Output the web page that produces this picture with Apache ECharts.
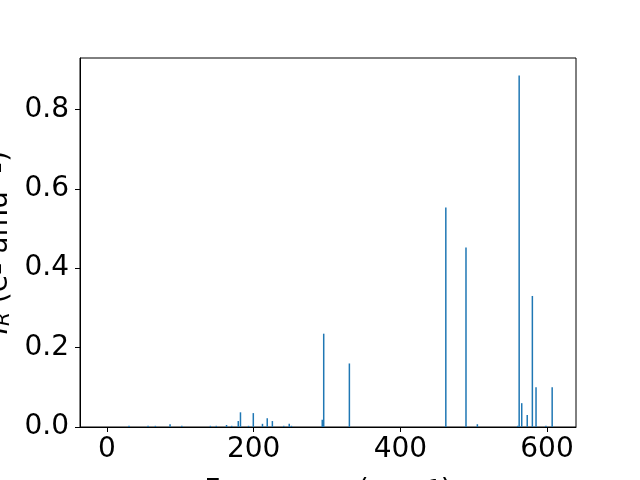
<!DOCTYPE html>
<html><head><meta charset="utf-8">
<script src="https://cdn.jsdelivr.net/npm/echarts@6/dist/echarts.min.js"></script>
<style>html,body{margin:0;padding:0;background:#fff}#c{width:640px;height:480px}</style>
</head><body><div id="c"></div>
<script>
const frequencies = [30, 56, 66, 86, 102, 141, 149, 163, 170, 179, 182, 193, 199.5, 212, 218.5, 225.5, 241, 248.5, 251.5, 293.5, 295.5, 330.5, 462, 489.5, 505, 560, 562, 565.5, 573, 580, 585, 598.5, 607];
const intensities = [0.003, 0.003, 0.003, 0.007, 0.003, 0.003, 0.003, 0.005, 0.003, 0.015, 0.037, 0.003, 0.035, 0.008, 0.022, 0.015, 0.003, 0.008, 0.003, 0.018, 0.235, 0.16, 0.553, 0.452, 0.007, 0.003, 0.885, 0.06, 0.03, 0.33, 0.1, 0.003, 0.1];
const xTicks = [0, 200, 400, 600];
const yTicks = [0, 0.2, 0.4, 0.6, 0.8];

const chart = echarts.init(document.getElementById('c'));
const font = 'DejaVu Sans';
chart.setOption({
  animation: false,
  grid: {left: 80, right: 64, top: 58, bottom: 53, containLabel: false, outerBoundsMode: 'none', show: true, borderColor: '#000', borderWidth: 1, backgroundColor: 'transparent'},
  xAxis: {
    type: 'value', min: -36.8, max: 639.5,
    name: 'Frequency (cm{sup|−1})', nameLocation: 'middle', nameGap: 51,
    nameTextStyle: {fontFamily: font, fontSize: 28, color: '#000', rich: {sup: {fontFamily: font, fontSize: 20, verticalAlign: 'top', color: '#000'}}},
    axisLine: {show: true, onZero: false, lineStyle: {color: '#000', width: 1}},
    axisTick: {show: true, inside: false, length: 5, lineStyle: {color: '#000'}, customValues: xTicks},
    axisLabel: {fontFamily: font, fontSize: 28, color: '#000', margin: 9, customValues: xTicks},
    splitLine: {show: false}
  },
  yAxis: {
    type: 'value', min: 0, max: 0.9293,
    name: '{i|I}{sub|R} (e{sup|2} amu{sup|−1})', nameLocation: 'middle', nameGap: 63, nameRotate: 90,
    nameTextStyle: {fontFamily: font, fontSize: 28, color: '#000', rich: {
      i: {fontFamily: font, fontSize: 28, fontStyle: 'italic', color: '#000'},
      sub: {fontFamily: font, fontSize: 20, fontStyle: 'italic', verticalAlign: 'bottom', color: '#000'},
      sup: {fontFamily: font, fontSize: 20, verticalAlign: 'top', color: '#000'}}},
    axisLine: {show: true, onZero: false, lineStyle: {color: '#000', width: 1}},
    axisTick: {show: true, inside: false, length: 5, lineStyle: {color: '#000'}, customValues: yTicks},
    axisLabel: {fontFamily: font, fontSize: 28, color: '#000', margin: 11, customValues: yTicks, formatter: v => v.toFixed(1)},
    splitLine: {show: false}
  },
  series: [{
    type: 'bar', barWidth: 1.5, barGap: '-100%',
    itemStyle: {color: '#1f77b4'},
    data: frequencies.map((f, i) => [f, intensities[i]])
  }]
});
</script></body></html>
